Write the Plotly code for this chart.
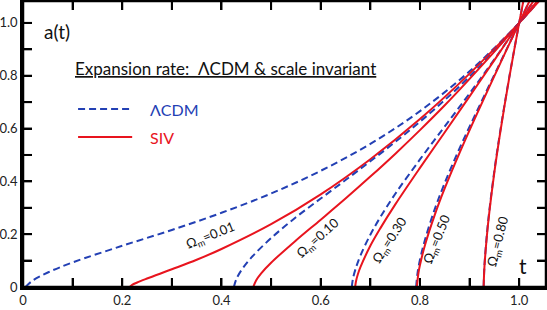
import plotly.graph_objects as go

# ---- data ----
omega_labels = ["0.01", "0.10", "0.30", "0.50", "0.80"]

# LambdaCDM (dashed blue)
lcdm_t_001 = [0.005, 0.02, 0.05, 0.10, 0.20, 0.30, 0.40, 0.50, 0.60, 0.70, 0.80, 0.90, 1.00, 1.05]
lcdm_a_001 = [0.0, 0.025, 0.055, 0.093, 0.156, 0.216, 0.281, 0.354, 0.440, 0.542, 0.666, 0.817, 1.00, 1.106]
lcdm_t_010 = [0.425, 0.43, 0.44, 0.46, 0.50, 0.55, 0.60, 0.65, 0.70, 0.75, 0.80, 0.85, 0.90, 0.95, 1.00, 1.05]
lcdm_a_010 = [0.0, 0.030, 0.063, 0.111, 0.185, 0.264, 0.335, 0.405, 0.476, 0.549, 0.626, 0.708, 0.797, 0.894, 1.00, 1.117]
lcdm_t_030 = [0.6626, 0.665, 0.67, 0.68, 0.70, 0.72, 0.75, 0.80, 0.85, 0.90, 0.95, 1.00, 1.04]
lcdm_a_030 = [0.0, 0.032, 0.067, 0.119, 0.198, 0.264, 0.352, 0.483, 0.608, 0.733, 0.862, 1.00, 1.118]
lcdm_t_050 = [0.7923, 0.795, 0.80, 0.81, 0.83, 0.85, 0.88, 0.91, 0.94, 0.97, 1.00, 1.03]
lcdm_a_050 = [0.0, 0.051, 0.103, 0.178, 0.296, 0.394, 0.526, 0.647, 0.765, 0.882, 1.00, 1.122]
lcdm_t_080 = [0.9283, 0.93, 0.935, 0.94, 0.95, 0.96, 0.97, 0.98, 0.99, 1.00, 1.01, 1.015]
lcdm_a_080 = [0.0, 0.082, 0.202, 0.292, 0.441, 0.569, 0.685, 0.795, 0.899, 1.00, 1.099, 1.148]

# SIV (solid red)
siv_t_001 = [0.215, 0.22, 0.23, 0.25, 0.30, 0.35, 0.40, 0.50, 0.60, 0.70, 0.80, 0.90, 1.00, 1.05]
siv_a_001 = [0.0, 0.008, 0.017, 0.032, 0.067, 0.103, 0.144, 0.238, 0.351, 0.484, 0.636, 0.808, 1.00, 1.104]
siv_t_010 = [0.464, 0.47, 0.48, 0.50, 0.55, 0.60, 0.65, 0.70, 0.75, 0.80, 0.85, 0.90, 0.95, 1.00, 1.05]
siv_a_010 = [0.0, 0.026, 0.052, 0.092, 0.176, 0.255, 0.335, 0.418, 0.504, 0.594, 0.688, 0.788, 0.891, 1.00, 1.114]
siv_t_030 = [0.6694, 0.671, 0.675, 0.68, 0.70, 0.72, 0.75, 0.80, 0.85, 0.90, 0.95, 1.00, 1.04]
siv_a_030 = [0.0, 0.021, 0.049, 0.075, 0.156, 0.222, 0.312, 0.451, 0.586, 0.722, 0.859, 1.00, 1.116]
siv_t_050 = [0.7937, 0.797, 0.80, 0.81, 0.83, 0.85, 0.88, 0.91, 0.94, 0.97, 1.00, 1.03]
siv_a_050 = [0.0, 0.054, 0.083, 0.158, 0.274, 0.374, 0.509, 0.636, 0.759, 0.880, 1.00, 1.120]
siv_t_080 = [0.9283, 0.93, 0.935, 0.94, 0.95, 0.96, 0.97, 0.98, 0.99, 1.00, 1.01, 1.015]
siv_a_080 = [0.0, 0.078, 0.196, 0.286, 0.435, 0.564, 0.682, 0.793, 0.898, 1.00, 1.099, 1.147]

# ticks every 0.1, labels every 0.2
tick_vals = [0, 0.1, 0.2, 0.3, 0.4, 0.5, 0.6, 0.7, 0.8, 0.9, 1.0]
tick_text = ["0", "", "0.2", "", "0.4", "", "0.6", "", "0.8", "", "1.0"]

# label anchor positions (t, a) and angles for the Omega_m annotations
label_t = [0.377, 0.595, 0.740, 0.835, 0.958]
label_a = [0.193, 0.186, 0.178, 0.182, 0.174]
label_angle = [-22, -42, -57, -68, -76]

BLUE = "#2340b4"
RED = "#e8141e"
INK = "#000000"
FONT = "Lato"
TICKLEN = 9

lcdm = [(lcdm_t_001, lcdm_a_001), (lcdm_t_010, lcdm_a_010), (lcdm_t_030, lcdm_a_030),
        (lcdm_t_050, lcdm_a_050), (lcdm_t_080, lcdm_a_080)]
siv = [(siv_t_001, siv_a_001), (siv_t_010, siv_a_010), (siv_t_030, siv_a_030),
       (siv_t_050, siv_a_050), (siv_t_080, siv_a_080)]

fig = go.Figure()
for (lt, la), (st, sa) in zip(lcdm, siv):
    fig.add_trace(go.Scatter(x=lt, y=la, mode="lines", line_shape="spline",
                             line=dict(color=BLUE, width=2, dash="7px,4px"),
                             showlegend=False, hoverinfo="skip"))
    fig.add_trace(go.Scatter(x=st, y=sa, mode="lines", line_shape="spline",
                             line=dict(color=RED, width=2),
                             showlegend=False, hoverinfo="skip"))

annotations = []
for lab, lt, la, ang in zip(omega_labels, label_t, label_a, label_angle):
    annotations.append(dict(x=lt, y=la, xref="x", yref="y", text="Ω<sub>m</sub>=" + lab,
                            showarrow=False, textangle=ang,
                            font=dict(family=FONT, size=13, color="#111")))

annotations += [
    dict(x=0.0685, y=0.966, xref="x", yref="y", text="a(t)", showarrow=False,
         font=dict(family=FONT, size=19, color="#111")),
    dict(x=1.008, y=0.080, xref="x", yref="y", text="t", showarrow=False,
         font=dict(family=FONT, size=21, color="#111")),
    dict(x=0.100, y=0.828, xref="x", yref="y", xanchor="left",
         text="<u>Expansion rate:\u00a0 ΛCDM &amp; scale invariant</u>", showarrow=False,
         font=dict(family=FONT, size=17, color="#111")),
    dict(x=0.252, y=0.674, xref="x", yref="y", xanchor="left", text="ΛCDM", showarrow=False,
         font=dict(family=FONT, size=16, color=BLUE)),
    dict(x=0.252, y=0.568, xref="x", yref="y", xanchor="left", text="SIV", showarrow=False,
         font=dict(family=FONT, size=16, color=RED)),
]

shapes = [
    dict(type="line", xref="x", yref="y", x0=0.111, x1=0.220, y0=0.674, y1=0.674,
         line=dict(color=BLUE, width=2, dash="7px,4px")),
    dict(type="line", xref="x", yref="y", x0=0.111, x1=0.220, y0=0.568, y1=0.568,
         line=dict(color=RED, width=2)),
    # plot frame
    dict(type="rect", xref="paper", yref="paper", x0=0, x1=1, y0=0, y1=1,
         line=dict(color=INK, width=2.5), layer="above"),
]
# inward tick marks on all four sides (frame decoration)
tick_line = dict(color=INK, width=2)
for v in tick_vals:
    shapes.append(dict(type="line", xref="x", yref="paper", ysizemode="pixel", yanchor=0,
                       x0=v, x1=v, y0=0, y1=TICKLEN, line=tick_line, layer="above"))
    shapes.append(dict(type="line", xref="x", yref="paper", ysizemode="pixel", yanchor=1,
                       x0=v, x1=v, y0=0, y1=-TICKLEN, line=tick_line, layer="above"))
    shapes.append(dict(type="line", xref="paper", yref="y", xsizemode="pixel", xanchor=0,
                       x0=0, x1=TICKLEN, y0=v, y1=v, line=tick_line, layer="above"))
    shapes.append(dict(type="line", xref="paper", yref="y", xsizemode="pixel", xanchor=1,
                       x0=0, x1=-TICKLEN, y0=v, y1=v, line=tick_line, layer="above"))

axis_common = dict(showline=True, linecolor=INK, linewidth=2.5, mirror="allticks",
                   ticks="inside", ticklen=TICKLEN, tickwidth=2, tickcolor=INK,
                   showgrid=False, zeroline=False, tickmode="array",
                   tickvals=tick_vals, ticktext=tick_text, automargin=False,
                   tickfont=dict(family=FONT, size=13, color="#222"))

fig.update_layout(
    width=547, height=310,
    margin=dict(l=23, r=1, t=1, b=23),
    paper_bgcolor="white", plot_bgcolor="white",
    xaxis=dict(range=[0, 1.054], **axis_common),
    yaxis=dict(range=[0, 1.083], **axis_common),
    annotations=annotations,
    shapes=shapes,
)

fig.write_html("out.html", config={"displayModeBar": False},
               post_script="document.body.style.margin='0';document.body.style.padding='0';")
